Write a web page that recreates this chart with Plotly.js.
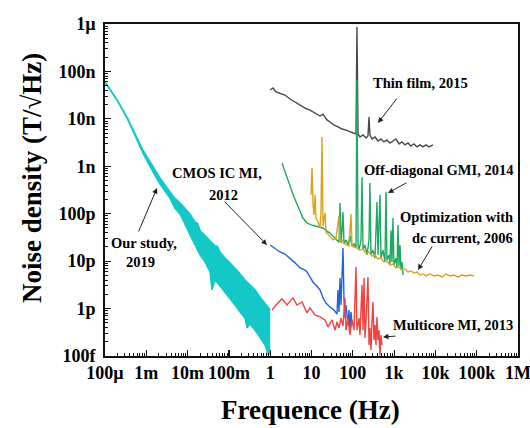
<!DOCTYPE html>
<html>
<head>
<meta charset="utf-8">
<script src="https://cdn.plot.ly/plotly-3.0.1.min.js"></script>
<style>html,body{margin:0;padding:0;background:#fff;}#chart{width:530px;height:428px;}</style>
</head>
<body>
<div id="chart"></div>
<script>
// ---- tick labels ----
const xTickVals = [1e-4, 1e-3, 1e-2, 1e-1, 1, 10, 100, 1e3, 1e4, 1e5, 1e6];
const xTickText = ["100µ", "1m", "10m", "100m", "1", "10", "100", "1k", "10k", "100k", "1M"];
const yTickVals = [1e-13, 1e-12, 1e-11, 1e-10, 1e-9, 1e-8, 1e-7, 1e-6];
const yTickText = ["100f", "1p", "10p", "100p", "1n", "10n", "100n", "1µ"];

// ---- Our study, 2019 (noise band: upper / lower envelope) ----
const ourHighFreq = [1e-4, 1.95e-4, 3.41e-4, 5.95e-4, 8.31e-4, 1.45e-3, 2.14e-3, 3.75e-3, 4.95e-3, 6.55e-3, 8.6e-3, 1.14e-2, 1.51e-2, 1.75e-2, 2.0e-2, 2.64e-2, 3.49e-2, 4.6e-2, 5.3e-2, 6.1e-2, 8.0e-2, 0.106, 0.14, 0.186, 0.245, 0.324, 0.43, 0.565, 0.75, 1.0];
const ourHigh = [6.0e-8, 2.5e-8, 1.09e-8, 3.95e-9, 2.2e-9, 1.0e-9, 5.7e-10, 2.9e-10, 2.1e-10, 1.7e-10, 1.3e-10, 9.9e-11, 6.7e-11, 6.2e-11, 4.5e-11, 3.4e-11, 2.7e-11, 2.1e-11, 2.05e-11, 1.56e-11, 1.16e-11, 9.2e-12, 7.2e-12, 5.4e-12, 4.0e-12, 3.15e-12, 2.5e-12, 1.76e-12, 1.31e-12, 9.3e-13];
const ourLowFreq = [1e-4, 1.95e-4, 3.41e-4, 5.95e-4, 8.31e-4, 1.45e-3, 2.14e-3, 3.75e-3, 4.95e-3, 6.55e-3, 8.6e-3, 1.14e-2, 1.51e-2, 2.0e-2, 2.64e-2, 3.49e-2, 3.89e-2, 4.6e-2, 6.1e-2, 8.0e-2, 0.106, 0.14, 0.186, 0.245, 0.274, 0.324, 0.43, 0.565, 0.75, 0.9, 1.0];
const ourLow = [6.0e-8, 2.5e-8, 1.04e-8, 3.42e-9, 1.9e-9, 7.6e-10, 4.2e-10, 2.1e-10, 1.3e-10, 9.9e-11, 5.8e-11, 3.6e-11, 2.2e-11, 1.35e-11, 9.6e-12, 5.9e-12, 2.5e-12, 4.0e-12, 3.0e-12, 2.24e-12, 1.68e-12, 1.19e-12, 8.5e-13, 6.3e-13, 3.9e-13, 4.7e-13, 3.5e-13, 2.4e-13, 1.7e-13, 1.05e-13, 1.22e-13];

// ---- CMOS IC MI, 2012 ----
const cmosFreq = [1.0, 1.31, 1.73, 2.28, 3.02, 3.99, 5.27, 6.97, 7.78, 9.2, 10.9, 12.85, 16.1, 19.0, 22.4, 28.0, 35.1, 41.5, 43.8, 46.3, 49.0, 51.8, 54.8, 57.9, 61.2, 64.7, 68.4, 76.5, 80.9, 85.5, 90.4, 95.6, 107];
const cmosNoise = [2.19e-11, 1.89e-11, 1.56e-11, 1.41e-11, 1.16e-11, 9.2e-12, 7.2e-12, 6.5e-12, 5.9e-12, 4.6e-12, 3.6e-12, 3.15e-12, 2.47e-12, 1.68e-12, 1.31e-12, 1.08e-12, 9.3e-13, 7.7e-13, 2.47e-12, 8.5e-13, 4.4e-12, 1.19e-12, 7.2e-12, 1.89e-11, 1.52e-12, 6.3e-13, 1.19e-12, 4.5e-13, 9.3e-13, 3.5e-13, 8.5e-13, 5.0e-13, 4.3e-13];

// ---- Multicore MI, 2013 ----
const multiFreq = [1.105, 1.38, 1.93, 2.55, 3.57, 4.45, 5.89, 7.78, 9.2, 12.2, 16.1, 21.2, 25.1, 31.4, 37.1, 41.5, 46.3, 51.8, 57.9, 64.7, 68.4, 76.5, 85.5, 95.6, 107, 119.5, 126, 141, 149, 167, 177, 187, 197, 209, 233, 247, 260, 276, 292, 308, 326, 345, 364, 385, 407, 431, 455, 481, 509];
const multiNoise = [9.3e-13, 1.19e-12, 1.6e-12, 1.19e-12, 1.68e-12, 1.19e-12, 1.38e-12, 8.1e-13, 1.03e-12, 7.3e-13, 6.65e-13, 5.75e-13, 4.1e-13, 5.75e-13, 3.5e-13, 5.2e-13, 3.9e-13, 6.3e-13, 4.3e-13, 1.68e-12, 3.5e-13, 6.3e-13, 2.77e-13, 5.75e-13, 3.5e-13, 7.5e-12, 3.5e-13, 6.3e-13, 2.77e-13, 3.15e-12, 3.5e-13, 4.4e-12, 2.4e-13, 5.2e-13, 4.6e-12, 1.7e-13, 3.9e-13, 1.34e-13, 5.75e-13, 1.38e-12, 2.18e-13, 4.5e-13, 1.7e-13, 6.65e-13, 2.18e-13, 3.5e-13, 1.02e-13, 2.77e-13, 1.7e-13];

// ---- Thin film, 2015 ----
const thinFreq = [1.0, 1.17, 1.38, 1.73, 2.28, 3.02, 3.99, 5.27, 6.97, 9.2, 12.2, 16.1, 19.0, 23.7, 28.0, 35.1, 43.8, 54.8, 68.4, 85.5, 107, 119.5, 126, 134, 149, 177, 209, 233, 247, 260, 292, 345, 407, 481, 566, 670, 794, 940, 1110, 1315, 1550, 1840, 2170, 2560, 3030, 3590, 4240, 5000, 5920, 7000, 8760];
const thinNoise = [4.05e-8, 4.47e-8, 3.68e-8, 3.5e-8, 3.18e-8, 2.62e-8, 2.26e-8, 1.96e-8, 1.69e-8, 1.53e-8, 1.33e-8, 1.15e-8, 1.26e-8, 9.5e-9, 8.6e-9, 7.4e-9, 6.75e-9, 6.1e-9, 5.8e-9, 5.3e-9, 5.0e-9, 4.8e-9, 8.65e-7, 4.8e-9, 4.15e-9, 4.6e-9, 3.95e-9, 4.36e-9, 1.09e-8, 4.6e-9, 3.77e-9, 4.15e-9, 3.42e-9, 3.77e-9, 3.26e-9, 3.6e-9, 3.1e-9, 3.42e-9, 3.77e-9, 2.96e-9, 3.26e-9, 2.82e-9, 3.1e-9, 2.68e-9, 2.96e-9, 2.56e-9, 2.82e-9, 2.56e-9, 2.82e-9, 2.56e-9, 2.82e-9];

// ---- Off-diagonal GMI, 2014 ----
const gmiFreq = [1.93, 2.41, 3.02, 3.77, 4.45, 5.27, 6.2, 7.78, 9.72, 12.2, 15.2, 19.0, 23.7, 28.0, 35.1, 41.5, 46.3, 49.0, 51.8, 54.8, 57.9, 61.2, 68.4, 76.5, 85.5, 95.6, 107, 119.5, 126, 134, 141, 158, 167, 177, 197, 221, 247, 260, 276, 308, 345, 385, 407, 455, 481, 538, 601, 636, 672, 751, 794, 840, 888, 939, 993, 1110, 1175, 1243, 1315, 1390, 1470, 1550, 1642];
const gmiNoise = [1.17e-9, 6.56e-10, 3.66e-10, 2.25e-10, 1.6e-10, 1.09e-10, 8.1e-11, 6.4e-11, 5.8e-11, 5.5e-11, 5.2e-11, 5.0e-11, 4.3e-11, 3.9e-11, 3.2e-11, 2.8e-11, 2.5e-11, 1.69e-10, 2.4e-11, 4.5e-11, 1.09e-10, 2.3e-11, 2.8e-11, 2.19e-11, 3.4e-11, 2.08e-11, 2.3e-11, 1.89e-11, 6.6e-8, 2.19e-11, 1.71e-11, 2.8e-11, 5.9e-10, 1.71e-11, 2.19e-11, 1.35e-11, 2.8e-11, 4.45e-10, 1.35e-11, 1.71e-11, 1.16e-11, 1.77e-10, 1.35e-11, 2.5e-10, 1.16e-11, 1.71e-11, 9.6e-12, 2.9e-10, 1.06e-11, 1.35e-11, 8.7e-12, 4.5e-11, 9.6e-12, 8.1e-11, 8.3e-12, 1.16e-11, 7.2e-12, 5.8e-11, 7.9e-12, 2.19e-11, 6.5e-12, 9.6e-12, 5.1e-12];

// ---- Optimization with dc current, 2006 ----
const dcFreq = [9.72, 10.3, 10.9, 11.5, 12.2, 12.85, 14.4, 16.1, 17.0, 17.95, 19.0, 21.2, 22.4, 25.1, 28.0, 33.1, 39.2, 46.3, 49.0, 54.8, 61.2, 68.4, 80.9, 90.4, 95.6, 107, 126, 149, 177, 209, 247, 292, 345, 407, 481, 566, 670, 794, 939, 1110, 1315, 1550, 1840, 2170, 2560, 3030, 3590, 4240, 5000, 5920, 7400, 9240, 11560, 14450, 18060, 22600, 28200, 35300, 44100, 55100, 68900, 86000];
const dcNoise = [2.5e-10, 9.2e-10, 1.53e-10, 9.4e-11, 2.5e-10, 8.1e-11, 6.7e-11, 5.0e-11, 1.2e-10, 4.15e-9, 5.5e-11, 1.04e-10, 4.1e-11, 3.7e-11, 3.4e-11, 2.8e-11, 3.07e-11, 8.9e-11, 2.53e-11, 2.8e-11, 2.4e-11, 2.3e-11, 2.08e-11, 9.9e-11, 2.08e-11, 1.98e-11, 1.89e-11, 1.71e-11, 1.8e-11, 1.48e-11, 1.56e-11, 1.28e-11, 1.35e-11, 1.11e-11, 1.16e-11, 9.6e-12, 1.0e-11, 8.3e-12, 8.7e-12, 7.2e-12, 7.55e-12, 6.5e-12, 6.85e-12, 5.9e-12, 6.2e-12, 5.64e-12, 5.9e-12, 5.1e-12, 5.37e-12, 4.88e-12, 5.37e-12, 4.88e-12, 5.1e-12, 4.64e-12, 5.37e-12, 4.88e-12, 5.1e-12, 4.64e-12, 5.1e-12, 4.88e-12, 5.1e-12, 4.88e-12];

const FONT = 'Liberation Serif, "Times New Roman", serif';
const CYAN = '#14C8C8', BLUE = '#2462D8', RED = '#F2423F', GRAY = '#484848', GREEN = '#1FA962', ORANGE = '#DDA11E';

function line(x, y, color, w) {
  return {x: x, y: y, type: 'scatter', mode: 'lines', line: {color: color, width: w || 1.4}, hoverinfo: 'skip', showlegend: false};
}

const traces = [
  line(ourHighFreq, ourHigh, CYAN, 1.5),
  Object.assign(line(ourLowFreq, ourLow, CYAN, 1.5), {fill: 'tonexty', fillcolor: CYAN}),
  line(cmosFreq, cmosNoise, BLUE),
  line(multiFreq, multiNoise, RED),
  line(thinFreq, thinNoise, GRAY),
  line(gmiFreq, gmiNoise, GREEN),
  line(dcFreq, dcNoise, ORANGE)
];

// layout helpers: plot area 105..518 x 24..356 px
const L = 105, R = 12, T = 24, B = 72, W = 530 - L - R, H = 428 - T - B;
const px = v => (v - L) / W;
const py = v => (428 - B - v) / H;

function label(text, x, y, anchor) {
  return {text: text, xref: 'paper', yref: 'paper', x: px(x), y: py(y), xanchor: anchor || 'center', yanchor: 'middle',
    showarrow: false, font: {family: FONT, size: 14.5, color: '#000', weight: 'bold'}};
}
function arrow(hx, hy, tx, ty) {
  return {text: '', xref: 'paper', yref: 'paper', x: px(hx), y: py(hy), ax: tx - hx, ay: ty - hy,
    showarrow: true, arrowhead: 2, arrowsize: 1.1, arrowwidth: 1, arrowcolor: '#222', standoff: 0, startstandoff: 0};
}

const annotations = [
  label('Thin film, 2015', 420, 83),
  label('Off-diagonal GMI, 2014', 515, 170, 'right'),
  label('Optimization with', 515, 217, 'right'),
  label('dc current, 2006', 515, 238, 'right'),
  label('Multicore MI, 2013', 515, 325, 'right'),
  label('CMOS IC MI,', 217, 173),
  label('2012', 223, 195),
  label('Our study,', 144, 243),
  label('2019', 140, 262),
  arrow(378, 123, 398, 97),
  arrow(388, 193, 408, 182),
  arrow(418, 270, 433, 245),
  arrow(383, 337, 397, 336),
  arrow(267, 245, 223, 200),
  arrow(157, 188, 138, 233),
  {text: 'Noise density (T/√Hz)', xref: 'paper', yref: 'paper', x: px(32), y: py(178), xanchor: 'center', yanchor: 'middle',
    textangle: -90, showarrow: false, font: {family: FONT, size: 27, color: '#000', weight: 'bold'}},
  {text: 'Frequence (Hz)', xref: 'paper', yref: 'paper', x: px(310), y: py(410), xanchor: 'center', yanchor: 'middle',
    showarrow: false, font: {family: FONT, size: 27, color: '#000', weight: 'bold'}}
];

const axisCommon = {
  type: 'log', showgrid: false, zeroline: false, showline: true, mirror: true,
  linecolor: '#111', linewidth: 1.8, ticks: 'inside', ticklen: 6, tickwidth: 1.2, tickcolor: '#111',
  tickmode: 'array', ticklabeloverflow: 'allow',
  tickfont: {family: FONT, size: 18, color: '#000', weight: 'bold'},
  minor: {ticks: 'inside', ticklen: 3, tickwidth: 1, tickcolor: '#111', dtick: 'D1', showgrid: false}
};

const layout = {
  width: 530, height: 428,
  margin: {l: L, r: R, t: T, b: B},
  paper_bgcolor: '#fff', plot_bgcolor: '#fff',
  showlegend: false,
  xaxis: Object.assign({}, axisCommon, {range: [-4, 6], tickvals: xTickVals, ticktext: xTickText, ticklabelstandoff: 0}),
  yaxis: Object.assign({}, axisCommon, {range: [-13, -6], tickvals: yTickVals, ticktext: yTickText, ticklabelstandoff: 4}),
  annotations: annotations
};

Plotly.newPlot('chart', traces, layout, {displayModeBar: false, staticPlot: true});
</script>
</body>
</html>
